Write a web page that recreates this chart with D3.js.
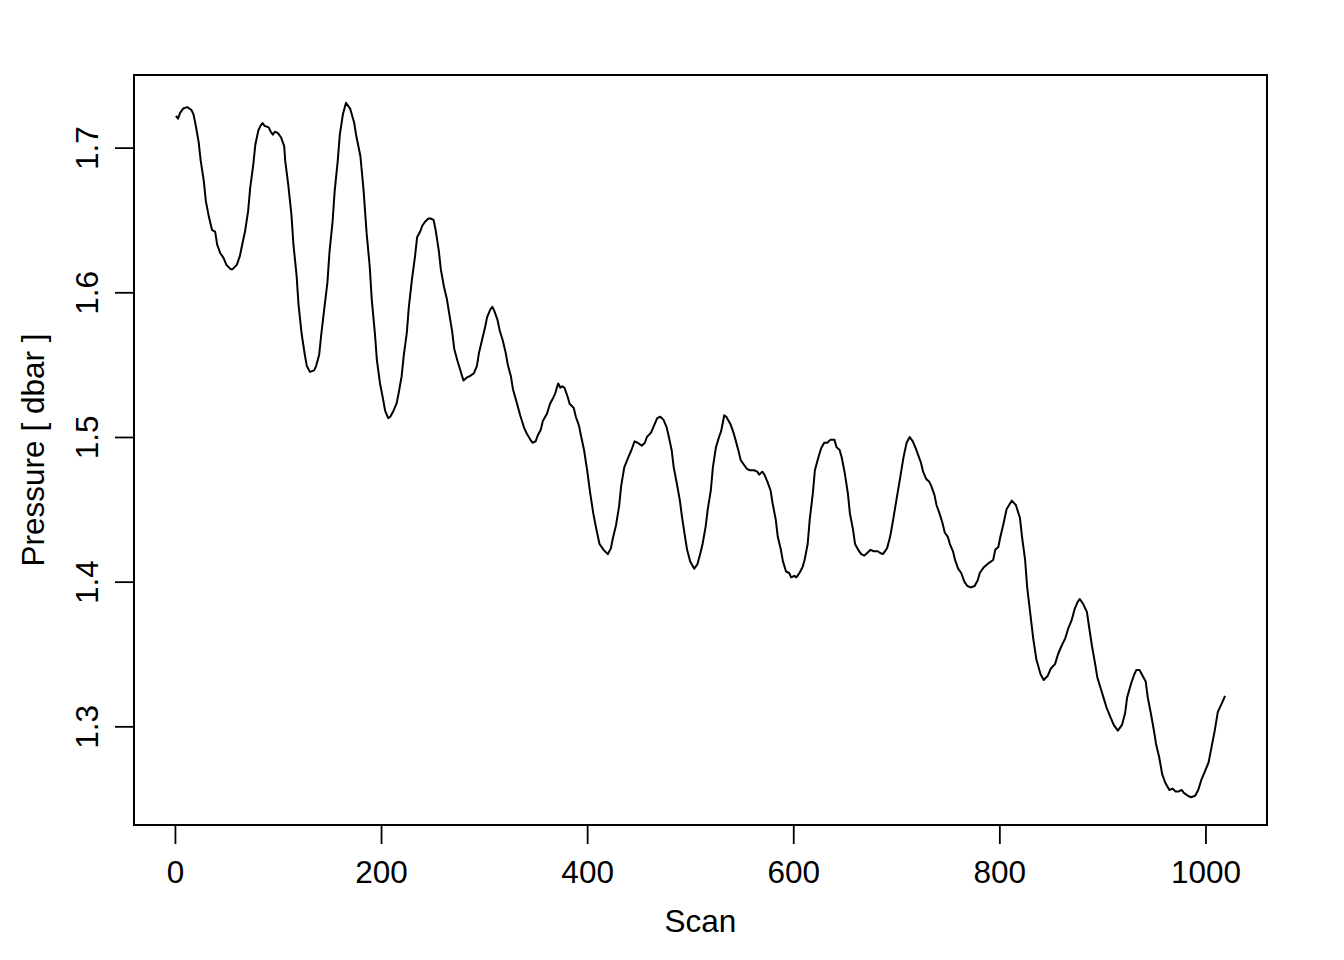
<!DOCTYPE html>
<html>
<head>
<meta charset="utf-8">
<script src="https://cdn.jsdelivr.net/npm/d3@7"></script>
<style>
  html, body { margin: 0; padding: 0; background: #ffffff; }
  svg { display: block; }
  text { font-family: "Liberation Sans", Arial, Helvetica, sans-serif; fill: #000; }
</style>
</head>
<body>
<svg id="chart" width="1344" height="960"></svg>
<script>
// ---- data ----
const xTickValues = [0, 200, 400, 600, 800, 1000];
const yTickValues = [1.3, 1.4, 1.5, 1.6, 1.7];
const xLabel = "Scan";
const yLabel = "Pressure [ dbar ]";
// [scan, pressure (dbar)]
const pressureTrace = [
[1,1.722],[3,1.720],[5,1.724],[8,1.727],[12,1.728],[16,1.726],[18,1.723],[20,1.716],[23,1.704],[25,1.691],
[28,1.677],[30,1.663],[33,1.652],[36,1.643],[39,1.642],[41,1.633],[44,1.627],[47,1.624],[50,1.619],[54,1.616],
[56,1.616],[60,1.619],[63,1.625],[65,1.632],[68,1.642],[71,1.656],[73,1.672],[76,1.688],[78,1.702],[81,1.712],
[83,1.715],[85,1.717],[87,1.715],[91,1.714],[93,1.711],[95,1.709],[97,1.711],[100,1.710],[103,1.707],[106,1.701],
[107,1.691],[110,1.674],[113,1.654],[115,1.633],[118,1.612],[120,1.591],[123,1.571],[126,1.557],[128,1.549],[131,1.545],
[135,1.546],[137,1.549],[140,1.557],[142,1.571],[145,1.589],[148,1.607],[150,1.628],[153,1.649],[155,1.670],[158,1.691],
[160,1.709],[163,1.723],[166,1.731],[170,1.727],[174,1.717],[176,1.708],[180,1.694],[183,1.671],[186,1.641],[189,1.618],
[191,1.595],[194,1.572],[196,1.553],[199,1.537],[202,1.526],[204,1.518],[207,1.513],[209,1.514],[212,1.518],[215,1.523],
[217,1.530],[220,1.542],[222,1.556],[225,1.572],[227,1.590],[230,1.609],[233,1.625],[235,1.638],[238,1.642],[240,1.646],
[243,1.649],[246,1.651],[248,1.651],[251,1.650],[253,1.643],[256,1.629],[258,1.616],[261,1.604],[264,1.595],[266,1.586],
[269,1.573],[271,1.561],[274,1.553],[277,1.546],[280,1.539],[283,1.541],[286,1.542],[290,1.544],[293,1.549],[295,1.558],
[298,1.567],[301,1.576],[303,1.583],[306,1.588],[308,1.590],[310,1.587],[313,1.581],[315,1.574],[318,1.567],[321,1.558],
[323,1.550],[326,1.542],[328,1.533],[332,1.523],[335,1.515],[339,1.506],[341,1.503],[345,1.498],[347,1.496],[350,1.497],
[352,1.501],[355,1.505],[357,1.511],[361,1.516],[364,1.523],[367,1.527],[369,1.530],[371,1.535],[372,1.537],[374,1.534],
[376,1.535],[378,1.534],[381,1.528],[383,1.523],[387,1.520],[389,1.514],[392,1.508],[394,1.501],[397,1.491],[400,1.477],
[403,1.461],[406,1.447],[409,1.436],[412,1.426],[416,1.422],[420,1.419],[423,1.423],[425,1.430],[428,1.439],[431,1.452],
[433,1.466],[436,1.479],[440,1.486],[443,1.491],[446,1.497],[449,1.496],[453,1.494],[456,1.496],[458,1.500],[462,1.503],
[465,1.508],[468,1.513],[471,1.514],[474,1.512],[477,1.507],[479,1.501],[482,1.491],[484,1.479],[487,1.468],[490,1.456],
[492,1.445],[495,1.431],[497,1.422],[500,1.414],[504,1.409],[507,1.412],[510,1.420],[512,1.426],[515,1.438],[517,1.450],
[520,1.463],[522,1.479],[525,1.493],[528,1.500],[530,1.504],[532,1.511],[533,1.515],[535,1.514],[539,1.509],[542,1.503],
[544,1.498],[547,1.490],[549,1.484],[552,1.481],[555,1.478],[558,1.477],[562,1.477],[565,1.476],[567,1.474],[570,1.476],
[572,1.474],[575,1.469],[578,1.463],[580,1.454],[583,1.443],[585,1.431],[588,1.422],[590,1.414],[593,1.407],[596,1.406],
[598,1.403],[601,1.404],[603,1.403],[606,1.406],[609,1.410],[611,1.415],[614,1.426],[616,1.443],[619,1.461],[621,1.477],
[624,1.485],[627,1.492],[630,1.496],[633,1.496],[636,1.498],[640,1.498],[642,1.493],[645,1.491],[647,1.486],[650,1.475],
[653,1.461],[655,1.447],[658,1.436],[660,1.426],[663,1.422],[666,1.419],[669,1.418],[672,1.420],[675,1.422],[678,1.421],
[682,1.421],[684,1.420],[687,1.419],[691,1.423],[694,1.431],[697,1.443],[700,1.456],[704,1.473],[707,1.486],[710,1.496],
[713,1.500],[716,1.497],[719,1.492],[721,1.488],[724,1.482],[726,1.476],[729,1.471],[732,1.469],[734,1.466],[737,1.460],
[739,1.453],[742,1.447],[745,1.440],[747,1.434],[750,1.431],[752,1.426],[755,1.421],[757,1.415],[760,1.409],[763,1.406],
[766,1.400],[769,1.397],[772,1.396],[776,1.397],[779,1.401],[781,1.406],[785,1.410],[790,1.413],[794,1.415],[796,1.422],
[799,1.424],[801,1.431],[804,1.440],[807,1.450],[812,1.456],[816,1.453],[820,1.444],[822,1.431],[825,1.415],[827,1.396],
[830,1.378],[833,1.360],[836,1.346],[840,1.336],[843,1.332],[847,1.335],[850,1.340],[854,1.343],[857,1.350],[860,1.355],
[864,1.361],[867,1.368],[870,1.373],[873,1.381],[876,1.386],[878,1.388],[881,1.385],[885,1.379],[887,1.369],[890,1.355],
[893,1.343],[895,1.334],[898,1.327],[901,1.320],[904,1.313],[908,1.306],[911,1.301],[915,1.297],[919,1.301],[922,1.309],
[924,1.320],[928,1.330],[931,1.336],[933,1.339],[936,1.339],[939,1.335],[942,1.331],[944,1.320],[947,1.309],[950,1.297],
[952,1.288],[955,1.279],[958,1.267],[961,1.261],[965,1.256],[968,1.257],[971,1.255],[974,1.255],[977,1.256],[979,1.254],
[983,1.252],[986,1.251],[990,1.252],[993,1.256],[996,1.263],[999,1.268],[1003,1.275],[1006,1.286],[1009,1.297],[1012,1.310],
[1016,1.316],[1019,1.321]
];

// ---- layout ----
const W = 1344, H = 960;
const plot = { left: 134, right: 1267, top: 75, bottom: 825 };
const fontSize = 31.5;

// R-style 4% axis extension
function padExtent(ext) {
  const d = (ext[1] - ext[0]) * 0.04;
  return [ext[0] - d, ext[1] + d];
}
const xExt = padExtent(d3.extent(pressureTrace, d => d[0]));
const yExt = padExtent(d3.extent(pressureTrace, d => d[1]));

const x = d3.scaleLinear().domain(xExt).range([plot.left, plot.right]);
const y = d3.scaleLinear().domain(yExt).range([plot.bottom, plot.top]);

const svg = d3.select("#chart");
svg.append("rect").attr("width", W).attr("height", H).attr("fill", "#ffffff");

// line
const line = d3.line().x(d => x(d[0])).y(d => y(d[1])).curve(d3.curveLinear);
svg.append("path")
  .datum(pressureTrace)
  .attr("d", line)
  .attr("fill", "none")
  .attr("stroke", "#000")
  .attr("stroke-width", 2)
  .attr("stroke-linejoin", "round");

// x axis
const xAxis = svg.append("g")
  .attr("transform", `translate(0,${plot.bottom})`)
  .call(d3.axisBottom(x).tickValues(xTickValues).tickSize(19).tickSizeOuter(0).tickFormat(d3.format("d")));
xAxis.select(".domain").remove();
xAxis.selectAll(".tick line").attr("stroke", "#000").attr("stroke-width", 1.8);
xAxis.selectAll(".tick text")
  .attr("y", 58).attr("dy", null)
  .attr("font-size", fontSize)
  .attr("font-family", "Liberation Sans, Arial, Helvetica, sans-serif")
  .attr("fill", "#000");

// y axis
const yAxis = svg.append("g")
  .attr("transform", `translate(${plot.left},0)`)
  .call(d3.axisLeft(y).tickValues(yTickValues).tickSize(19).tickSizeOuter(0).tickFormat(d3.format(".1f")));
yAxis.select(".domain").remove();
yAxis.selectAll(".tick line").attr("stroke", "#000").attr("stroke-width", 1.8);
yAxis.selectAll(".tick text")
  .attr("x", 0).attr("y", -36).attr("dy", null)
  .attr("transform", "rotate(-90)")
  .attr("text-anchor", "middle")
  .attr("font-size", fontSize)
  .attr("font-family", "Liberation Sans, Arial, Helvetica, sans-serif")
  .attr("fill", "#000");

// box
svg.append("rect")
  .attr("x", plot.left).attr("y", plot.top)
  .attr("width", plot.right - plot.left).attr("height", plot.bottom - plot.top)
  .attr("fill", "none").attr("stroke", "#000").attr("stroke-width", 2);

// axis titles
svg.append("text")
  .attr("x", (plot.left + plot.right) / 2).attr("y", 932)
  .attr("text-anchor", "middle").attr("font-size", fontSize)
  .text(xLabel);
svg.append("text")
  .attr("transform", `translate(44,${(plot.top + plot.bottom) / 2}) rotate(-90)`)
  .attr("text-anchor", "middle").attr("font-size", fontSize)
  .text(yLabel);
</script>
</body>
</html>
